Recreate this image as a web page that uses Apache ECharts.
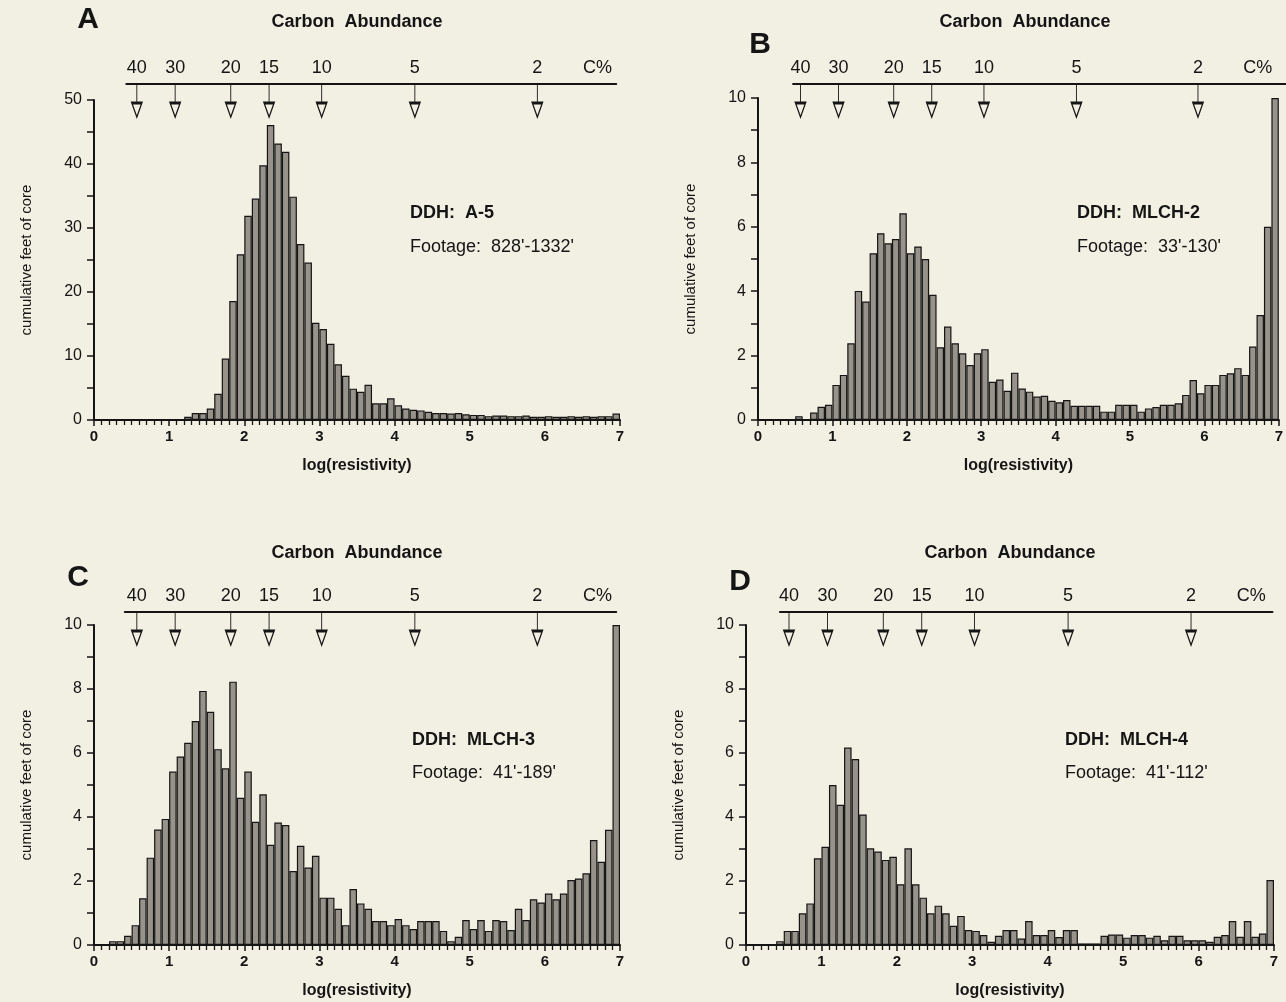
<!DOCTYPE html>
<html><head><meta charset="utf-8">
<style>html,body{margin:0;padding:0;background:#f2efe3;} #c{width:1286px;height:1002px;}</style>
<script src="https://cdn.jsdelivr.net/npm/echarts@6/dist/echarts.min.js"></script>
</head><body><div id="c"></div><script>
// ---- data ----
const binLabels = Array.from({length: 70}, (_, k) => (k / 10).toFixed(1)); // bin starts, log(resistivity)
const resA = [0,0,0,0,0,0,0,0,0,0,0,0,
  0.5,1.1,1.1,1.8,4.1,9.6,18.6,25.9,31.9,34.6,39.8,46.1,43.2,41.9,34.9,27.5,24.6,15.2,14.2,11.9,
  8.7,6.9,4.9,4.4,5.5,2.6,2.6,3.4,2.3,1.8,1.6,1.5,1.3,1.1,1.1,1.0,1.1,0.9,0.8,0.8,0.6,0.7,0.7,
  0.6,0.6,0.7,0.5,0.5,0.6,0.5,0.5,0.6,0.5,0.6,0.5,0.6,0.6,1.0];
const resB = [0,0,0,0,0,
  0.12,0,0.23,0.41,0.47,1.09,1.40,2.38,4.01,3.68,5.18,5.80,5.49,5.62,6.42,5.18,5.39,5.0,3.89,2.26,
  2.90,2.38,2.07,1.71,2.07,2.20,1.19,1.26,0.91,1.47,0.98,0.88,0.73,0.75,0.6,0.55,0.62,0.44,0.44,
  0.44,0.44,0.26,0.26,0.47,0.47,0.47,0.26,0.36,0.4,0.47,0.47,0.52,0.78,1.24,0.83,1.09,1.09,1.40,
  1.45,1.61,1.40,2.28,3.26,6.0,10];
const resC = [0,0,
  0.12,0.12,0.29,0.62,1.46,2.73,3.61,3.94,5.42,5.89,6.32,7.0,7.94,7.29,6.12,5.52,8.23,4.60,5.42,
  3.85,4.71,3.13,3.83,3.75,2.31,3.10,2.42,2.79,1.48,1.48,1.13,0.62,1.75,1.30,1.13,0.75,0.75,0.62,
  0.81,0.62,0.5,0.75,0.75,0.75,0.44,0.12,0.26,0.78,0.5,0.78,0.44,0.78,0.75,0.47,1.13,0.78,1.43,
  1.33,1.61,1.43,1.61,2.03,2.08,2.24,3.28,2.6,3.6,10];
const resD = [0,0,0,0,
  0.12,0.44,0.44,0.99,1.30,2.71,3.07,5.0,4.38,6.17,5.81,4.08,3.02,2.92,2.66,2.76,1.90,3.02,1.90,
  1.48,0.99,1.23,0.99,0.60,0.91,0.47,0.44,0.31,0.1,0.29,0.47,0.47,0.2,0.75,0.31,0.31,0.47,0.25,
  0.47,0.47,0.05,0.05,0.05,0.29,0.33,0.33,0.23,0.31,0.31,0.23,0.29,0.15,0.29,0.29,0.15,0.15,0.15,
  0.1,0.26,0.31,0.75,0.26,0.75,0.26,0.36,2.03];
const carbonPct  = ['40','30','20','15','10','5','2'];
const carbonLogR = [0.57,1.08,1.82,2.33,3.03,4.27,5.9];
const carbonUnit = 'C%';
const carbonUnitPos = 6.7;
const panelLetters = ['A','B','C','D'];
const holeNames = ['DDH:  A-5','DDH:  MLCH-2','DDH:  MLCH-3','DDH:  MLCH-4'];
const footages = ["Footage:  828'-1332'","Footage:  33'-130'","Footage:  41'-189'","Footage:  41'-112'"];
const yMaxes = [50,10,10,10];
const yTickSteps = [5,1,1,1];
const yLabelSteps = [10,2,2,2];
const seriesData = [resA,resB,resC,resD];

// ---- layout/style ----
const FONT = "'Liberation Sans', Arial, Helvetica, sans-serif";
const INK = '#151515';
const BG = '#f2efe3';
const layout = [
  {x0:94,  w:526, top:100, h:320, tMin:0.43, tMax:6.95, lineY:84,  letter:[88,20],  title:[357,22],  ddh:[410,213],  foot:[410,247]},
  {x0:758, w:522, top:98,  h:322, tMin:0.47, tMax:7.08, lineY:84,  letter:[760,45], title:[1025,22], ddh:[1077,213], foot:[1077,247]},
  {x0:94,  w:526, top:625, h:320, tMin:0.41, tMax:6.95, lineY:612, letter:[78,578], title:[357,553], ddh:[412,740],  foot:[412,773]},
  {x0:746, w:528, top:625, h:320, tMin:0.45, tMax:6.98, lineY:612, letter:[740,582],title:[1010,553],ddh:[1065,740], foot:[1065,773]}
];

const grid = [], xAxis = [], yAxis = [], series = [], graphic = [];
layout.forEach((L, p) => {
  const px = L.w / 7;
  grid.push({left: L.x0, top: L.top, width: L.w, height: L.h});
  grid.push({left: L.x0 + L.tMin * px, top: L.lineY, width: (L.tMax - L.tMin) * px, height: 33});
  const gMain = 2 * p, gStrip = 2 * p + 1;
  xAxis.push({gridIndex: gMain, type: 'category', data: binLabels, show: false, boundaryGap: true});
  xAxis.push({gridIndex: gMain, type: 'value', min: 0, max: 7, interval: 1, position: 'bottom',
    axisLine: {show: true, onZero: false, lineStyle: {color: INK, width: 2}},
    axisTick: {show: true, length: 6, lineStyle: {color: INK, width: 1.5}},
    minorTick: {show: true, splitNumber: 10, length: 5, lineStyle: {color: INK, width: 1.3}},
    splitLine: {show: false},
    axisLabel: {color: INK, fontSize: 15, fontWeight: 'bold', fontFamily: FONT, margin: 9},
    name: 'log(resistivity)', nameLocation: 'middle', nameGap: 38,
    nameTextStyle: {color: INK, fontSize: 16, fontWeight: 'bold', fontFamily: FONT}});
  xAxis.push({gridIndex: gStrip, type: 'value', min: L.tMin, max: L.tMax, position: 'top',
    axisLine: {show: true, onZero: false, lineStyle: {color: INK, width: 2}},
    axisTick: {show: false}, splitLine: {show: false},
    axisLabel: {show: true, customValues: carbonLogR.concat([carbonUnitPos]), margin: 7,
      color: INK, fontSize: 18, fontFamily: FONT,
      formatter: v => {
        if (Math.abs(v - carbonUnitPos) < 0.005) return carbonUnit;
        for (let i = 0; i < carbonLogR.length; i++) if (Math.abs(v - carbonLogR[i]) < 0.005) return carbonPct[i];
        return '';
      }}});
  const step = yLabelSteps[p];
  yAxis.push({gridIndex: gMain, type: 'value', min: 0, max: yMaxes[p], interval: yTickSteps[p],
    axisLine: {show: true, lineStyle: {color: INK, width: 2}},
    axisTick: {show: true, length: 7, lineStyle: {color: INK, width: 1.5}},
    splitLine: {show: false},
    axisLabel: {color: INK, fontSize: 16, fontFamily: FONT, margin: 12,
      formatter: v => (Math.round(v) % step === 0 ? String(v) : '')},
    name: 'cumulative feet of core', nameLocation: 'middle', nameRotate: 90, nameGap: 60,
    nameTextStyle: {color: INK, fontSize: 15, fontFamily: FONT}});
  yAxis.push({gridIndex: gStrip, type: 'value', min: 0, max: 1, show: false});
  series.push({type: 'bar', xAxisIndex: 3 * p, yAxisIndex: 2 * p, data: seriesData[p],
    barCategoryGap: '0%', barGap: '0%', silent: true,
    itemStyle: {color: '#97938a', borderColor: '#151515', borderWidth: 1.2}});
  series.push({type: 'scatter', xAxisIndex: 3 * p + 2, yAxisIndex: 2 * p + 1,
    data: carbonLogR.map(v => [v, 0.5]), silent: true, clip: false,
    symbol: 'path://M5 0L5 19M0 19L10 19L5 33Z', symbolSize: [10, 33],
    itemStyle: {color: BG, borderColor: INK, borderWidth: 1.6, opacity: 1}});
  graphic.push({type: 'text', style: {text: panelLetters[p], x: L.letter[0], y: L.letter[1],
    font: 'bold 30px ' + FONT, fill: INK, textAlign: 'center', textVerticalAlign: 'middle'}});
  graphic.push({type: 'text', style: {text: 'Carbon  Abundance', x: L.title[0], y: L.title[1],
    font: 'bold 18px ' + FONT, fill: INK, textAlign: 'center', textVerticalAlign: 'middle'}});
  graphic.push({type: 'text', style: {text: holeNames[p], x: L.ddh[0], y: L.ddh[1],
    font: 'bold 18px ' + FONT, fill: INK, textAlign: 'left', textVerticalAlign: 'middle'}});
  graphic.push({type: 'text', style: {text: footages[p], x: L.foot[0], y: L.foot[1],
    font: '18px ' + FONT, fill: INK, textAlign: 'left', textVerticalAlign: 'middle'}});
});

const chart = echarts.init(document.getElementById('c'), null, {renderer: 'canvas'});
chart.setOption({
  backgroundColor: BG, animation: false,
  grid, xAxis, yAxis, series, graphic
});
</script></body></html>
